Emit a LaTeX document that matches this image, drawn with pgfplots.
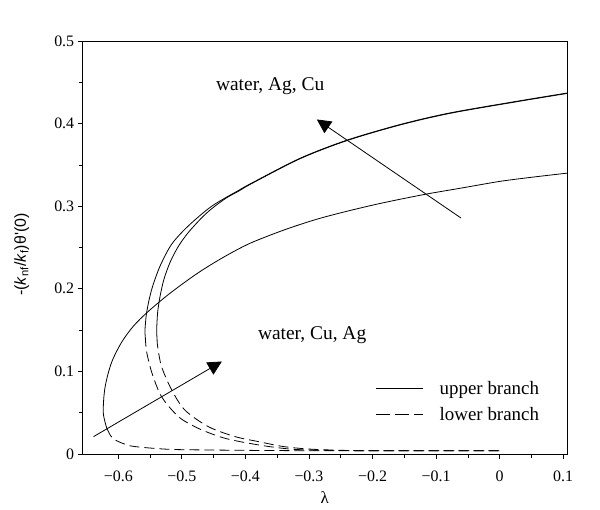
\documentclass[border=0pt]{standalone}
\usepackage{fontspec}
\setmainfont{Liberation Serif}
\newfontfamily\arialf{Liberation Sans}
\usepackage{pgfplots}
\pgfplotsset{compat=1.18}
\usetikzlibrary{arrows.meta}
\begin{document}
\begin{tikzpicture}
\useasboundingbox (-82.7bp,-56bp) rectangle (517.3bp,454bp);
\begin{axis}[
  at={(0,0)}, anchor=south west,
  scale only axis, width=484.3bp, height=413bp,
  xmin=-0.656, xmax=0.106, ymin=0, ymax=0.5,
  axis line style={line width=0.9bp},
  xtick={-0.6,-0.5,-0.4,-0.3,-0.2,-0.1,0,0.1},
  xticklabels={−0.6,−0.5,−0.4,−0.3,−0.2,−0.1,0,0.1},
  ytick={0,0.1,0.2,0.3,0.4,0.5},
  yticklabels={0,0.1,0.2,0.3,0.4,0.5},
  minor tick num=1,
  tick align=outside, tick pos=left,
  major tick length=5bp, minor tick length=4bp,
  tick style={black, line width=0.7bp},
  ticklabel style={font=\fontsize{16}{16}\selectfont},
  xticklabel style={yshift=-8bp},
  xlabel={λ},
  xlabel style={font=\fontsize{17}{17}\selectfont, at={(axis description cs:0.5,-0.1065)}, anchor=center},
  ylabel={\arialf -(\textit{k}\textsubscript{nf}/\textit{k}\textsubscript{f})θ'(0)},
  ylabel style={font=\fontsize{16}{16}\selectfont, at={(axis description cs:-0.126,0.483)}, anchor=center, rotate=0},
  legend style={draw=none, fill=none, at={(axis cs:-0.195,0.0636)}, anchor=west,
    font=\fontsize{19}{19}\selectfont, row sep=7bp, column sep=14bp, inner sep=0pt},
  legend cell align=left,
  legend image code/.code={\draw[#1, line width=0.8bp] (0bp,0bp) -- (47bp,0bp);},
]
% curve A (water) upper branch
\addplot[black, line width=0.8bp, smooth, forget plot] coordinates {
(-0.618,0.031) (-0.6236,0.05) (-0.621,0.08) (-0.611,0.11) (-0.595,0.135)
(-0.576,0.155) (-0.553,0.1725) (-0.518,0.195) (-0.475,0.219) (-0.435,0.238)
(-0.393,0.255) (-0.34,0.271) (-0.293,0.283) (-0.25,0.292) (-0.19,0.303)
(-0.12,0.314) (-0.06,0.322) (0.0,0.330) (0.05,0.335) (0.106,0.340)};
% curve A lower branch
\addplot[black, line width=0.8bp, smooth, dash pattern=on 10bp off 5bp, forget plot] coordinates {
(-0.618,0.031) (-0.612,0.022) (-0.605,0.017) (-0.59,0.012) (-0.574,0.009)
(-0.521,0.0057) (-0.45,0.0048) (-0.3,0.004) (0,0.004)};
% curve B (Ag) upper branch
\addplot[black, line width=0.8bp, smooth, forget plot] coordinates {
(-0.5575,0.142) (-0.558,0.150) (-0.556,0.168) (-0.552,0.185) (-0.546,0.203)
(-0.534,0.228) (-0.516,0.254) (-0.490,0.276) (-0.453,0.300) (-0.411,0.319)
(-0.390,0.328) (-0.314,0.358) (-0.240,0.380) (-0.156,0.399) (-0.0776,0.413)
(0.027,0.427) (0.106,0.437)};
% curve B lower branch
\addplot[black, line width=0.8bp, smooth, dash pattern=on 10bp off 5bp, forget plot] coordinates {
(-0.5575,0.142) (-0.557,0.135) (-0.555,0.122) (-0.547,0.098) (-0.532,0.0695)
(-0.505,0.045) (-0.474,0.031) (-0.432,0.019) (-0.3795,0.011) (-0.33,0.006)
(-0.28,0.0045) (-0.2,0.004) (0,0.004)};
% curve C (Cu) upper branch
\addplot[black, line width=0.8bp, smooth, forget plot] coordinates {
(-0.539,0.140) (-0.5396,0.150) (-0.538,0.172) (-0.534,0.192) (-0.528,0.212)
(-0.518,0.233) (-0.505,0.252) (-0.490,0.268) (-0.47,0.285) (-0.453,0.297)
(-0.43,0.310) (-0.41,0.3185) (-0.390,0.3275) (-0.314,0.3575)
(-0.240,0.3795) (-0.156,0.3985) (-0.0776,0.4125) (0.027,0.4265) (0.106,0.4365)};
% curve C lower branch
\addplot[black, line width=0.8bp, smooth, dash pattern=on 10bp off 5bp, forget plot] coordinates {
(-0.539,0.140) (-0.538,0.130) (-0.532,0.106) (-0.516,0.0776) (-0.495,0.053)
(-0.458,0.033) (-0.416,0.021) (-0.3795,0.015) (-0.34,0.009) (-0.3,0.006)
(-0.25,0.0045) (-0.2,0.004) (0,0.004)};
\addlegendimage{black}
\addlegendentry{upper branch}
\addlegendimage{black, dash pattern=on 14bp off 5bp}
\addlegendentry{lower branch}
% annotations
\draw[line width=0.8bp, -{Triangle[length=14bp,width=14bp]}] (axis cs:-0.0608,0.2857) -- (axis cs:-0.2876,0.405);
\draw[line width=0.8bp, -{Triangle[length=14bp,width=14bp]}] (axis cs:-0.639,0.021) -- (axis cs:-0.437,0.112);
\node[font=\fontsize{19.5}{19.5}\selectfont] at (axis cs:-0.361,0.445) {water, Ag, Cu};
\node[font=\fontsize{19.5}{19.5}\selectfont] at (axis cs:-0.295,0.144) {water, Cu, Ag};
\end{axis}
\end{tikzpicture}
\end{document}
